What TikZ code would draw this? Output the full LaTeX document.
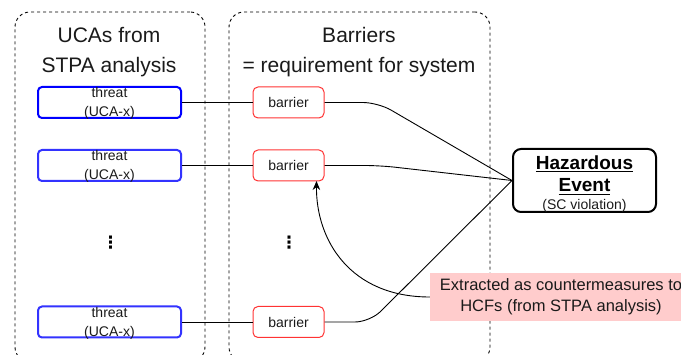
\documentclass[tikz,border=0pt]{standalone}
\usepackage{fontspec}
\setmainfont{Liberation Sans}
\newfontfamily\dotsfont{DejaVu Sans}
\usetikzlibrary{arrows.meta}
\definecolor{threatblue}{HTML}{0000FF}
\definecolor{threatlight}{HTML}{3333FF}
\definecolor{barrierred}{HTML}{FF3333}
\definecolor{notepink}{HTML}{FFCCCC}
\definecolor{inkgray}{HTML}{1A1A1A}
% bold text with a heavier underline
\newcommand\heavyul[1]{\setbox0\hbox{#1}\rlap{\rule[-3pt]{\wd0}{1.4pt}}\box0}
\tikzset{
  lane/.style={draw, dash pattern=on 3pt off 3pt, line width=0.9pt,
    rounded corners=15pt, minimum height=350pt, inner sep=0pt},
  threatbox/.style={draw=#1, line width=2pt, rounded corners=4pt,
    minimum width=143pt, minimum height=31pt, inner sep=0pt},
  threattext/.style={anchor=north, inner sep=0pt, align=center,
    text=inkgray, font=\fontsize{14}{19}\selectfont},
  barrierbox/.style={draw=barrierred, line width=1pt, rounded corners=5pt,
    minimum width=71pt, minimum height=31pt, inner sep=0pt, text=inkgray,
    font=\fontsize{14}{17}\selectfont},
  hazbox/.style={draw, line width=2pt, rounded corners=8pt,
    minimum width=143pt, minimum height=63pt, inner sep=0pt},
  lanetitle/.style={anchor=base, inner sep=0pt, text=inkgray,
    font=\fontsize{21}{25}\selectfont},
  dotsmark/.style={inner sep=0pt, font=\dotsfont\bfseries\fontsize{17}{17}\selectfont},
  notebox/.style={fill=notepink, minimum width=262pt, minimum height=48pt,
    inner sep=0pt, align=center, text=inkgray,
    font=\fontsize{16.5}{21}\selectfont},
  link/.style={line width=0.9pt, rounded corners=15pt},
}
\begin{document}
\begin{tikzpicture}[x=1pt, y=-1pt]
\useasboundingbox (0,0) rectangle (681,355);

% swimlanes
\node[lane, minimum width=190pt] (lane1) at (110,187) {};
\node[lane, minimum width=261pt] (lane2) at (359.5,187) {};

\node[lanetitle] (lt1) at (109,42.5) {UCAs from};
\node[lanetitle] (lt2) at (109,72.5) {STPA analysis};
\node[lanetitle] (mt1) at (359,42.5) {Barriers};
\node[lanetitle] (mt2) at (359,72.5) {= requirement for system};

% threats
\node[threatbox=threatblue]  (t1) at (109.5,102.5) {};
\node[threatbox=threatlight] (t2) at (109.5,165.5) {};
\node[threatbox=threatlight] (t3) at (109.5,322) {};
\node[threattext] (t1x) at ([yshift=-1.5pt]t1.north) {threat\\(UCA-x)};
\node[threattext] (t2x) at ([yshift=-1.5pt]t2.north) {threat\\(UCA-x)};
\node[threattext] (t3x) at ([yshift=-1.5pt]t3.north) {threat\\(UCA-x)};

% barriers
\node[barrierbox] (b1) at (288.5,102.5) {barrier};
\node[barrierbox] (b2) at (288.5,165.5) {barrier};
\node[barrierbox] (b3) at (288.5,322) {barrier};

% ellipses
\node[dotsmark] (d1) at (110.5,242.5) {⋮};
\node[dotsmark] (d2) at (289,242.5) {⋮};

% hazardous event
\node[hazbox] (hz) at (584.5,180.5) {};
\node[anchor=base, inner sep=0pt, font=\bfseries\fontsize{19}{22}\selectfont]
  (hz1) at (584.5,169.5) {\heavyul{Hazardous}};
\node[anchor=base, inner sep=0pt, font=\bfseries\fontsize{19}{22}\selectfont]
  (hz2) at (584.5,192) {\heavyul{Event}};
\node[anchor=base, inner sep=0pt, text=inkgray, font=\fontsize{14}{17}\selectfont]
  (hz3) at (584.5,209.5) {(SC violation)};

% note
\node[notebox] (note) at (561,297) {Extracted as countermeasures to\\HCFs (from STPA analysis)};
\coordinate (b2tip) at ([xshift=-8pt,yshift=0.5pt]b2.south east);

% connectors
\draw[link] (t1.east) -- (b1.west);
\draw[link] (t2.east) -- (b2.west);
\draw[link] (t3.east) -- (b3.west);
\draw[link] (b1.east) -- (378,102.5) -- (hz.west);
\draw[link] (b2.east) -- (380,165.5) -- (hz.west);
\draw[link] (b3.east) -- (370,322) -- (hz.west);
\draw[line width=0.9pt, -{Stealth[length=9pt,width=7.5pt]}]
  (note.west) .. controls (350,297) and (316,240) .. (b2tip);
\end{tikzpicture}
\end{document}
